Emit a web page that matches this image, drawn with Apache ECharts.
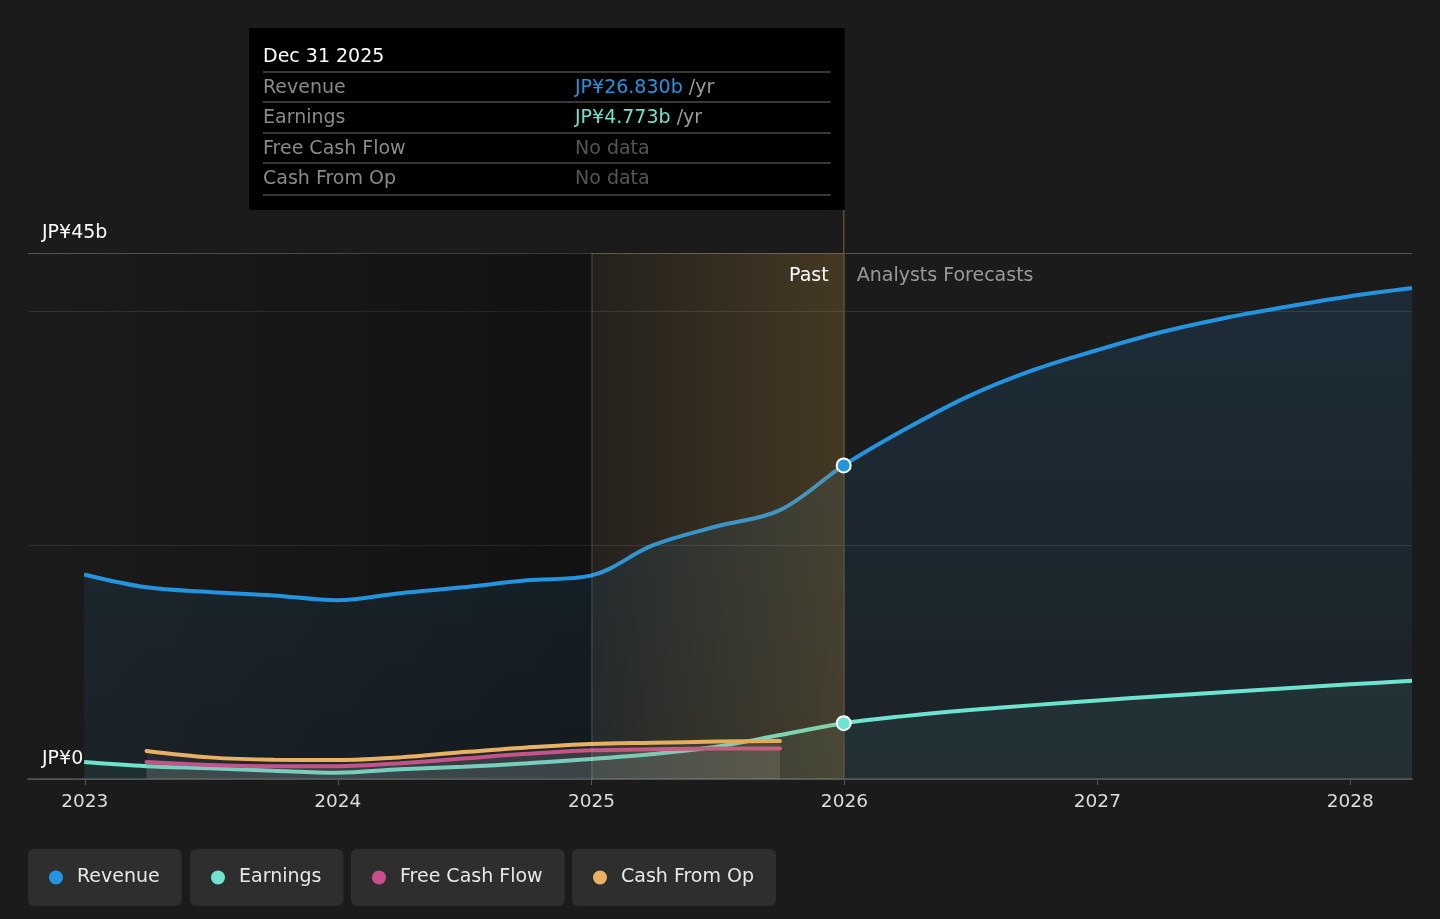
<!DOCTYPE html>
<html>
<head>
<meta charset="utf-8">
<script src="https://cdn.jsdelivr.net/npm/echarts@6/dist/echarts.min.js"></script>
<style>
html,body{margin:0;padding:0;background:#1b1b1b;}
#chart{width:1440px;height:919px;}
</style>
</head>
<body>
<div id="chart"></div>
<script>
// ---- data ----
const pastDates = ['2022-12-31','2023-03-31','2023-06-30','2023-09-30','2023-12-31','2024-03-31','2024-06-30','2024-09-30','2024-12-31','2025-03-31','2025-06-30','2025-09-30','2025-12-31'];
const revenuePast = [17.5,16.4,16.0,15.7,15.3,15.9,16.4,17.0,17.4,20.0,21.6,23.0,26.83];
const earningsPast = [1.45,1.1,0.92,0.71,0.54,0.83,1.05,1.34,1.71,2.14,2.76,3.76,4.773];

const forecastDates = ['2026-04-01','2026-07-01','2026-10-01','2027-01-01','2027-04-01','2027-07-01','2027-10-01','2028-01-01','2028-03-30'];
const revenueForecast = [30.0,32.8,35.0,36.7,38.2,39.4,40.4,41.3,42.0];
const earningsForecast = [5.4,5.9,6.32,6.72,7.08,7.43,7.77,8.1,8.4];

const cashDates = ['2023-03-31','2023-06-30','2023-09-30','2023-12-31','2024-03-31','2024-06-30','2024-09-30','2024-12-31','2025-03-31','2025-06-30','2025-09-30'];
const fcfValues = [1.45,1.2,1.1,1.1,1.35,1.75,2.15,2.45,2.55,2.6,2.62];
const cfoValues = [2.4,1.85,1.65,1.63,1.85,2.3,2.7,3.0,3.1,3.2,3.25];

const seriesNames = ['Revenue','Earnings','Free Cash Flow','Cash From Op'];
const seriesColors = ['#2394df','#6ee3cf','#c94f8a','#e8b262'];

const xMin = '2022-10-11';
const xMax = '2028-03-30';
const yMax = 45;
const yLabelValues = [0, 45];
const yLabelTexts = ['JP¥0', 'JP¥45b'];

const forecastStart = '2025-01-01';   // start of highlighted band
const tooltipDate = '2025-12-31';     // "Dec 31 2025"
const tooltipTitle = 'Dec 31 2025';

// ---- helpers ----
const zip = (d, v) => d.map((x, i) => [x, v[i]]);
const revenueData = zip(pastDates.concat(forecastDates), revenuePast.concat(revenueForecast));
const earningsData = zip(pastDates.concat(forecastDates), earningsPast.concat(earningsForecast));
const fcfData = zip(cashDates, fcfValues);
const cfoData = zip(cashDates, cfoValues);

const FONT = 'DejaVu Sans';
const TFONT = '19px "DejaVu Sans"';
const chart = echarts.init(document.getElementById('chart'), null, {renderer: 'canvas'});

function markerAt(data, color) {
  const hit = data.find(p => p[0] === tooltipDate);
  return {
    silent: true, z: 20,
    symbol: 'circle', symbolSize: 14,
    itemStyle: {color: color, borderColor: '#ffffff', borderWidth: 2},
    label: {show: false},
    data: [{coord: hit}]
  };
}

const legendLefts = [28, 190, 351, 572];

const option = {
  backgroundColor: '#1b1b1b',
  animation: false,
  textStyle: {fontFamily: FONT},
  grid: {left: 28, right: 28, top: 253, bottom: 140, containLabel: false},
  xAxis: {
    type: 'time',
    min: xMin, max: xMax,
    minInterval: 365 * 24 * 3600 * 1000,
    maxInterval: 366 * 24 * 3600 * 1000,
    axisLine: {show: true, lineStyle: {color: '#555555', width: 1.5}},
    axisTick: {show: true, length: 6, lineStyle: {color: '#555555'}},
    splitLine: {show: false},
    axisLabel: {
      color: '#dddddd', fontSize: 18.5, fontFamily: FONT, margin: 14,
      formatter: v => String(new Date(v).getFullYear())
    }
  },
  yAxis: {
    type: 'value',
    min: 0, max: yMax, interval: 20,
    axisLine: {show: false},
    axisTick: {show: false},
    splitLine: {show: true, lineStyle: {color: ['#555555', '#333333', '#333333', '#555555'], width: 1.2}},
    axisLabel: {
      inside: true, margin: 14,
      color: '#ffffff', fontSize: 19, fontFamily: FONT,
      verticalAlign: 'bottom', padding: [0, 0, 10, 0],
      formatter: v => {
        const i = yLabelValues.indexOf(v);
        return i >= 0 ? yLabelTexts[i] : '';
      }
    }
  },
  legend: seriesNames.map((n, i) => ({
    data: [n],
    left: legendLefts[i], top: 849,
    icon: 'circle',
    itemWidth: 14, itemHeight: 14,
    padding: [19, 22, 19, 21],
    backgroundColor: '#2e2e2e',
    borderRadius: 6,
    selectedMode: false,
    textStyle: {color: '#e8e8e8', fontSize: 19, fontFamily: FONT, padding: [0, 0, 0, 9]}
  })),
  series: [
    {
      name: seriesNames[0], type: 'line', data: revenueData,
      smooth: 0.35, symbol: 'none', z: 2,
      lineStyle: {color: seriesColors[0], width: 4},
      itemStyle: {color: seriesColors[0]},
      areaStyle: {
        color: {type: 'linear', x: 0, y: 0, x2: 0, y2: 1, colorStops: [
          {offset: 0, color: 'rgba(35,148,223,0.2)'},
          {offset: 1, color: 'rgba(35,148,223,0.09)'}
        ]}
      },
      markArea: {
        silent: true, z: 1,
        itemStyle: {
          color: {type: 'linear', x: 0, y: 0, x2: 1, y2: 0, colorStops: [
            {offset: 0, color: 'rgba(0,0,0,0)'},
            {offset: 1, color: 'rgba(0,0,0,0.35)'}
          ]}
        },
        data: [[{xAxis: xMin}, {xAxis: forecastStart}]]
      },
      markPoint: markerAt(revenueData, seriesColors[0])
    },
    {
      name: seriesNames[1], type: 'line', data: earningsData,
      smooth: 0.35, symbol: 'none', z: 3,
      lineStyle: {color: seriesColors[1], width: 4},
      itemStyle: {color: seriesColors[1]},
      areaStyle: {color: 'rgba(110,227,207,0.10)'},
      markPoint: markerAt(earningsData, seriesColors[1])
    },
    {
      name: seriesNames[2], type: 'line', data: fcfData,
      smooth: 0.35, symbol: 'none', z: 4,
      lineStyle: {color: seriesColors[2], width: 4, cap: 'round'},
      itemStyle: {color: seriesColors[2]},
      areaStyle: {color: 'rgba(160,160,160,0.28)'}
    },
    {
      name: seriesNames[3], type: 'line', data: cfoData,
      smooth: 0.35, symbol: 'none', z: 5,
      lineStyle: {color: seriesColors[3], width: 4, cap: 'round'},
      itemStyle: {color: seriesColors[3]},
      areaStyle: {color: 'rgba(130,130,130,0.14)'},
      markArea: {
        silent: true, z: 10,
        itemStyle: {
          color: {type: 'linear', x: 0, y: 0, x2: 1, y2: 0, colorStops: [
            {offset: 0, color: 'rgba(200,150,60,0.05)'},
            {offset: 1, color: 'rgba(200,150,60,0.24)'}
          ]}
        },
        data: [[{xAxis: forecastStart}, {xAxis: tooltipDate}]]
      },
      markLine: {
        silent: true, symbol: 'none', z: 11,
        label: {show: false},
        data: [
          {xAxis: forecastStart, lineStyle: {color: 'rgba(255,255,255,0.12)', width: 1.5, type: 'solid'}},
          {xAxis: tooltipDate, lineStyle: {color: '#5e5034', width: 1.5, type: 'solid'}}
        ]
      }
    }
  ]
};
chart.setOption(option);

// ---- static tooltip box and past/forecast labels, positioned from the axis ----
const px = chart.convertToPixel({xAxisIndex: 0}, tooltipDate);
const gridTop = 253;
const boxLeft = 249, boxTop = 28, boxBottom = 210;
const revAt = revenueData.find(p => p[0] === tooltipDate)[1];
const earnAt = earningsData.find(p => p[0] === tooltipDate)[1];
const rowValues = [
  {v: 'JP¥' + revAt.toFixed(3) + 'b', c: seriesColors[0]},
  {v: 'JP¥' + earnAt.toFixed(3) + 'b', c: seriesColors[1]},
  null, null
];
const rowY = [88, 118, 149, 179];
const sepY = [72, 102, 133, 163, 195];
const g = [];
g.push({type: 'rect', shape: {x: boxLeft, y: boxTop, width: px + 1 - boxLeft, height: boxBottom - boxTop}, style: {fill: '#000000'}, z: 100});
g.push({type: 'line', shape: {x1: px, y1: boxBottom, x2: px, y2: gridTop}, style: {stroke: '#5e5034', lineWidth: 1.5}, z: 100});
g.push({type: 'text', x: 263, y: 57, z: 101, style: {text: tooltipTitle, fill: '#ffffff', font: TFONT, verticalAlign: 'middle'}});
sepY.forEach(y => g.push({type: 'line', z: 101, shape: {x1: 263, y1: y, x2: px - 13, y2: y}, style: {stroke: '#4a4a4a', lineWidth: 1.5}}));
seriesNames.forEach((n, i) => {
  g.push({type: 'text', x: 263, y: rowY[i], z: 101, style: {text: n, fill: '#8a8a8a', font: TFONT, verticalAlign: 'middle'}});
  const rv = rowValues[i];
  if (rv) {
    g.push({type: 'text', x: 575, y: rowY[i], z: 101, style: {
      text: '{v|' + rv.v + '} {u|/yr}', verticalAlign: 'middle', font: TFONT,
      rich: {v: {fill: rv.c, font: TFONT}, u: {fill: '#9a9a9a', font: TFONT}}
    }});
  } else {
    g.push({type: 'text', x: 575, y: rowY[i], z: 101, style: {text: 'No data', fill: '#555555', font: TFONT, verticalAlign: 'middle'}});
  }
});
g.push({type: 'text', x: px - 15, y: 276, z: 101, style: {text: 'Past', fill: '#ffffff', font: TFONT, align: 'right', verticalAlign: 'middle'}});
g.push({type: 'text', x: px + 13, y: 276, z: 101, style: {text: 'Analysts Forecasts', fill: '#999999', font: TFONT, align: 'left', verticalAlign: 'middle'}});
chart.setOption({graphic: g});
</script>
</body>
</html>
